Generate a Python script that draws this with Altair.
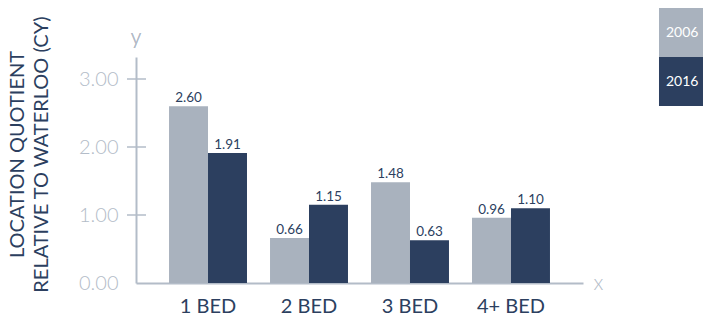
import altair as alt
import pandas as pd

categories = ["1 BED", "2 BED", "3 BED", "4+ BED"]
years = ["2006", "2016"]
v2006 = [2.60, 0.66, 1.48, 0.96]
v2016 = [1.91, 1.15, 0.63, 1.10]
tick_vals = [1, 2, 3]

rows = []
for c, a, b in zip(categories, v2006, v2016):
    rows.append({"cat": c, "year": "2006", "v": a})
    rows.append({"cat": c, "year": "2016", "v": b})
df = pd.DataFrame(rows)
ticks = pd.DataFrame({"t": tick_vals})

NAVY = "#2c3f5f"
LIGHT = "#a9b2be"
AXIS = "#b3bcc8"
FONT = "Lato"
LW = 300

yscale = alt.Scale(domain=[0, 226 / 68], nice=False, zero=True)

x = alt.X("cat:N", sort=categories,
          scale=alt.Scale(paddingInner=0.228, paddingOuter=0.327),
          axis=alt.Axis(title="x", titleX=462, titleY=0, titleAlign="center",
                        titleBaseline="middle", titleColor=AXIS, titleFontSize=21,
                        titleFontWeight=LW, titleFont=FONT,
                        labelAngle=0, labelFontSize=20, labelColor=NAVY, labelFont=FONT,
                        labelFontWeight="normal",
                        labelPadding=13, ticks=False, domainColor=AXIS, domainWidth=2))

y = alt.Y("v:Q", scale=yscale,
          axis=alt.Axis(values=[0, 1, 2, 3], format=".2f", ticks=False, labelPadding=18,
                        labelFontSize=20, labelColor=AXIS, labelFont=FONT,
                        labelFontWeight=LW,
                        domainColor=AXIS, domainWidth=2, grid=False,
                        title=["LOCATION QUOTIENT", "RELATIVE TO WATERLOO (CY)"],
                        titleFont=FONT, titleFontSize=20, titleFontWeight="normal",
                        titleColor=NAVY, titleLineHeight=24, titleAngle=-90,
                        titleBaseline="top", titleAlign="center",
                        titleX=-129, titleY=97))

color = alt.Color("year:N", scale=alt.Scale(domain=years, range=[LIGHT, NAVY]),
                  legend=alt.Legend(title=None, orient="none", legendX=481, legendY=-49,
                                    symbolType="M0.714,-1H2.51V1H0.714Z",
                                    symbolSize=2401, symbolStrokeWidth=0, symbolOpacity=1,
                                    labelColor="white", labelAlign="left", labelOffset=0,
                                    labelFontSize=14, labelFont=FONT, labelFontWeight="normal",
                                    rowPadding=0, padding=0))

base = alt.Chart(df)
bars = base.mark_bar().encode(
    x=x, xOffset=alt.XOffset("year:N", sort=years), y=y, color=color)
labels = base.mark_text(baseline="alphabetic", dy=-4, fontSize=13.5, font=FONT,
                        fontWeight="normal", color=NAVY).encode(
    x=alt.X("cat:N", sort=categories), xOffset=alt.XOffset("year:N", sort=years),
    y=alt.Y("v:Q"), text=alt.Text("v:Q", format=".2f"))
tickrules = alt.Chart(ticks).mark_rule(color=AXIS, strokeWidth=1.5).encode(
    y=alt.Y("t:Q"), x=alt.value(-9), x2=alt.value(10))
ylab = alt.Chart(ticks).mark_text(fontSize=21, font=FONT, fontWeight=LW, color=AXIS,
                                  baseline="middle").encode(
    x=alt.value(0), y=alt.value(-19), text=alt.value("y"))

chart = alt.layer(bars, labels, tickrules, ylab).properties(
    width=447, height=226,
    autosize=alt.AutoSizeParams(type="none"),
    padding={"left": 136, "top": 57, "right": 120, "bottom": 40},
).configure(font=FONT, view=alt.ViewConfig(stroke=None))

chart.save("out.html", embed_options={"renderer": "svg", "actions": False})
